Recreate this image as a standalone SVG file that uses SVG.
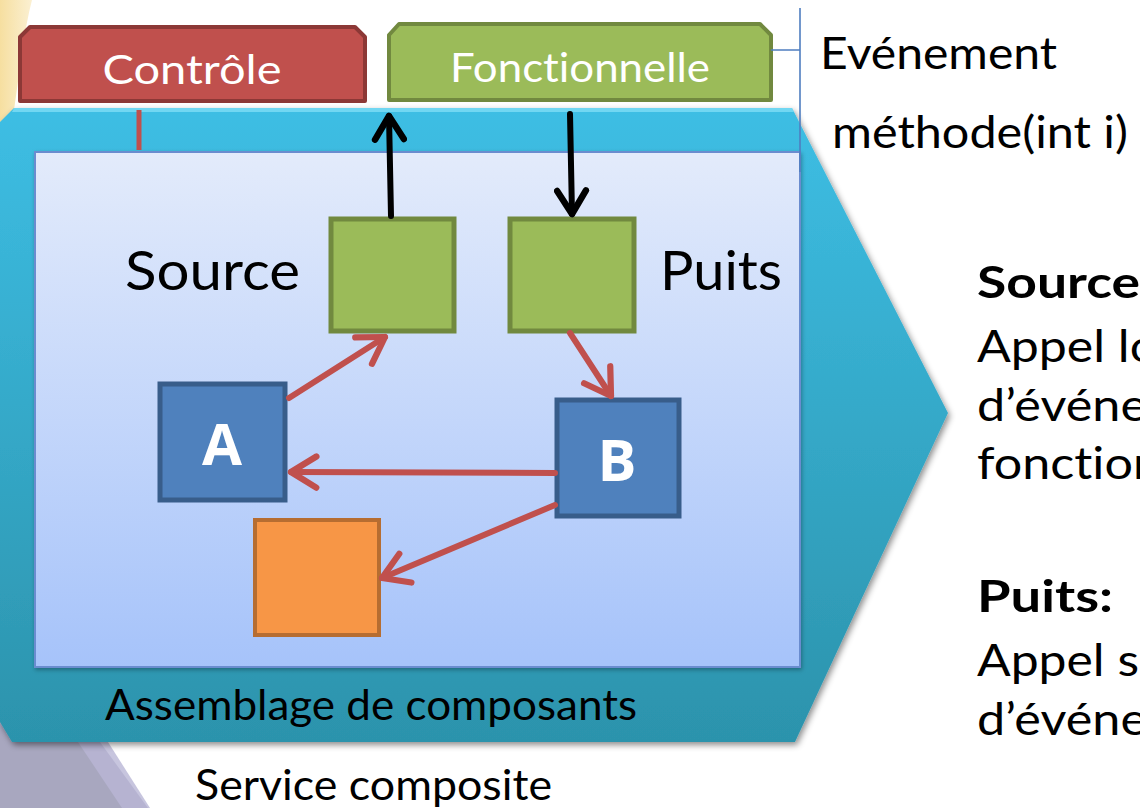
<svg xmlns="http://www.w3.org/2000/svg" width="1140" height="808" viewBox="0 0 1140 808">
  <defs>
    <linearGradient id="tealGrad" x1="0" y1="0" x2="0" y2="1">
      <stop offset="0" stop-color="#3DBEE4"/>
      <stop offset="1" stop-color="#2C93AC"/>
    </linearGradient>
    <linearGradient id="innerGrad" x1="0" y1="0" x2="0" y2="1">
      <stop offset="0" stop-color="#E3EBFB"/>
      <stop offset="1" stop-color="#A6C3FA"/>
    </linearGradient>
    <linearGradient id="yellowGrad" x1="0" y1="0" x2="1" y2="0">
      <stop offset="0" stop-color="#F6DFA0"/>
      <stop offset="1" stop-color="#FBF0D2"/>
    </linearGradient>
    <filter id="shadow" x="-5%" y="-5%" width="115%" height="115%">
      <feDropShadow dx="2" dy="3" stdDeviation="3" flood-color="#000" flood-opacity="0.45"/>
    </filter>
    <filter id="softShadow" x="-5%" y="-5%" width="115%" height="115%">
      <feDropShadow dx="1" dy="2" stdDeviation="2" flood-color="#000" flood-opacity="0.3"/>
    </filter>
    <marker id="redHead" viewBox="0 0 10 10" refX="8" refY="5" markerWidth="6.5" markerHeight="6.5" orient="auto" markerUnits="strokeWidth">
      <path d="M1.5,1 L8,5 L1.5,9" fill="none" stroke="#C0504D" stroke-width="1.6" stroke-linecap="round" stroke-linejoin="round"/>
    </marker>
    <marker id="blackHead" viewBox="0 0 10 10" refX="8" refY="5" markerWidth="6" markerHeight="6" orient="auto" markerUnits="strokeWidth">
      <path d="M1.5,1 L8,5 L1.5,9" fill="none" stroke="#000" stroke-width="1.8" stroke-linecap="round" stroke-linejoin="round"/>
    </marker>
  </defs>
  <style>
    text { font-variant-ligatures: none; }
    .txt { font-family: Lato, "Open Sans", "Liberation Sans", sans-serif; fill: #000; }
    .tabtxt { font-family: Lato, "Open Sans", "Liberation Sans", sans-serif; fill: #fff; font-size: 40px; text-anchor: middle; }
    .side { font-size: 44px; }
    .bold { font-weight: bold; }
    .green { fill: #9BBB59; stroke: #71893F; stroke-width: 5; }
    .blue { fill: #4F81BD; stroke: #385D8A; stroke-width: 5; }
    .orange { fill: #F79646; stroke: #B66D31; stroke-width: 4; }
    .letter { font-family: "Open Sans", Lato, "Liberation Sans", sans-serif; font-weight: bold; fill: #fff; font-size: 58px; text-anchor: middle; }
    .red { stroke: #C0504D; stroke-width: 6; fill: none; stroke-linecap: round; }
    .black { stroke: #000; stroke-width: 6; fill: none; stroke-linecap: round; }
  </style>

  <rect width="1140" height="808" fill="#fff"/>

  <!-- slide background remnants -->
  <path d="M0,0 L32,0 C24,30 20,70 14,110 L0,125 Z" fill="url(#yellowGrad)"/>
  <path d="M0,715 L100,742 L148,808 L0,808 Z" fill="#A8A7BF"/>
  <path d="M78,742 L108,742 L150,808 L122,808 Z" fill="#B9B6D6" opacity="0.8"/>

  <!-- composite service hexagon -->
  <g id="service">
    <polygon points="14,108 792,108 948,413 795,742 12,742 0,722 0,122" fill="url(#tealGrad)" filter="url(#shadow)"/>
    <path d="M14,108 L792,108 L794,112 L12,112 Z" fill="#7EDDF5" opacity="0.8"/>
    <text class="txt" x="105" y="720" font-size="42" textLength="532" lengthAdjust="spacingAndGlyphs">Assemblage de composants</text>
  </g>

  <!-- component assembly -->
  <g id="assembly">
    <rect x="35" y="152" width="765" height="515" fill="url(#innerGrad)" stroke="#6A8CCF" stroke-width="2" filter="url(#softShadow)"/>
  </g>

  <!-- interface tabs -->
  <g id="controle">
    <path d="M30,27 L355,27 L365,37 L365,101 L20,101 L20,37 Z" fill="#C0504D" stroke="#8C3836" stroke-width="4" stroke-linejoin="round"/>
    <text class="tabtxt" x="192" y="84" textLength="179" lengthAdjust="spacingAndGlyphs">Contrôle</text>
  </g>
  <g id="fonctionnelle">
    <path d="M399,24 L760,24 L771,35 L771,100 L389,100 L389,35 Z" fill="#9BBB59" stroke="#71893F" stroke-width="4" stroke-linejoin="round"/>
    <text class="tabtxt" x="580" y="82" textLength="260" lengthAdjust="spacingAndGlyphs">Fonctionnelle</text>
  </g>

  <!-- event ports -->
  <g id="source">
    <rect x="331" y="219" width="123" height="112" class="green"/>
    <text class="txt" x="125" y="290" font-size="54" textLength="175" lengthAdjust="spacingAndGlyphs">Source</text>
  </g>
  <g id="puits">
    <rect x="510" y="219" width="124" height="112" class="green"/>
    <text class="txt" x="660" y="290" font-size="54" textLength="122" lengthAdjust="spacingAndGlyphs">Puits</text>
  </g>

  <!-- components -->
  <g id="compA">
    <rect x="160" y="384" width="125" height="116" class="blue"/>
    <text class="letter" x="222" y="465">A</text>
  </g>
  <g id="compB">
    <rect x="557" y="400" width="122" height="116" class="blue"/>
    <text class="letter" x="617" y="481">B</text>
  </g>
  <g id="compC">
    <rect x="255" y="520" width="124" height="115" class="orange"/>
  </g>

  <!-- connectors -->
  <g id="connectors">
    <line x1="139" y1="110" x2="139" y2="150" stroke="#C0504D" stroke-width="5"/>
    <path d="M771,50 L800,50 M800,8 L800,172" stroke="#4F7EC0" stroke-width="1.6" fill="none"/>
    <line class="black" x1="391" y1="216" x2="389" y2="116" marker-end="url(#blackHead)"/>
    <line class="black" x1="570" y1="114" x2="572" y2="214" marker-end="url(#blackHead)"/>
    <line class="red" x1="289" y1="398" x2="385" y2="337" marker-end="url(#redHead)"/>
    <line class="red" x1="570" y1="333" x2="611" y2="396" marker-end="url(#redHead)"/>
    <line class="red" x1="555" y1="473" x2="291" y2="472" marker-end="url(#redHead)"/>
    <line class="red" x1="555" y1="505" x2="382" y2="578" marker-end="url(#redHead)"/>
  </g>

  <!-- annotations -->
  <g id="legend">
    <text class="txt" x="820" y="69" font-size="44" textLength="237" lengthAdjust="spacingAndGlyphs">Evénement</text>
    <text class="txt" x="832" y="148" font-size="44" textLength="296" lengthAdjust="spacingAndGlyphs">méthode(int i)</text>
    <text class="txt side bold" x="977" y="298" textLength="163" lengthAdjust="spacingAndGlyphs">Source</text>
    <text class="txt side" x="977" y="362" textLength="181" lengthAdjust="spacingAndGlyphs">Appel lo</text>
    <text class="txt side" x="977" y="421" textLength="170" lengthAdjust="spacingAndGlyphs">d’événe</text>
    <text class="txt side" x="977" y="479" textLength="184" lengthAdjust="spacingAndGlyphs">fonction</text>
    <text class="txt side bold" x="977" y="612" textLength="136" lengthAdjust="spacingAndGlyphs">Puits:</text>
    <text class="txt side" x="977" y="676" textLength="162" lengthAdjust="spacingAndGlyphs">Appel s</text>
    <text class="txt side" x="977" y="735" textLength="170" lengthAdjust="spacingAndGlyphs">d’événe</text>
  </g>

  <text class="txt" x="195" y="800" font-size="42" textLength="357" lengthAdjust="spacingAndGlyphs">Service composite</text>
</svg>
